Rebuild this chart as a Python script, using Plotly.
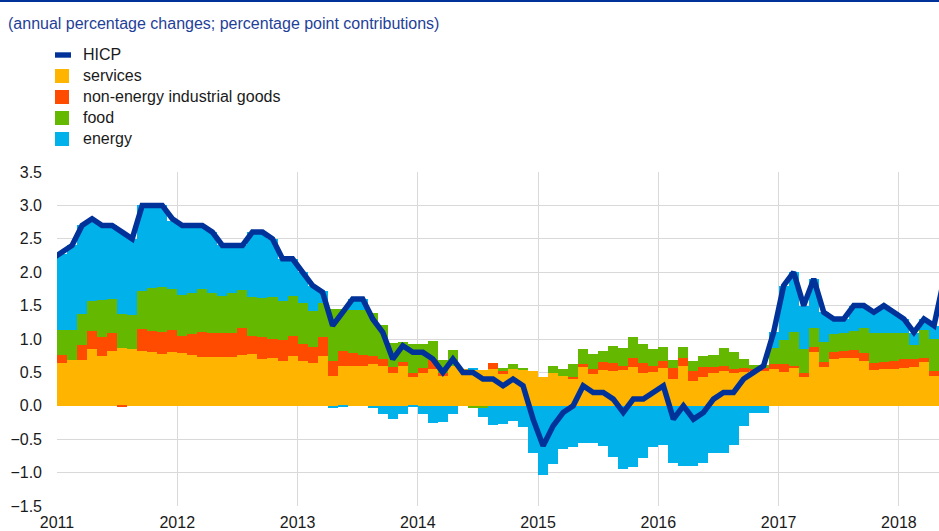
import pandas as pd
import plotly.graph_objects as go

# monthly data, Jan 2011 - Apr 2018 (contributions in percentage points)
months = pd.period_range("2011-01", "2018-04", freq="M").strftime("%Y-%m").tolist()

services = [
    0.64, 0.685, 0.685, 0.85, 0.745, 0.825, 0.86, 0.85, 0.82, 0.80, 0.77, 0.81,
    0.795, 0.76, 0.735, 0.725, 0.735, 0.725, 0.76, 0.77, 0.705, 0.72, 0.67, 0.75,
    0.67, 0.645, 0.75, 0.45, 0.595, 0.595, 0.595, 0.62, 0.595, 0.485, 0.6, 0.435,
    0.495, 0.545, 0.45, 0.6, 0.545, 0.545, 0.535, 0.55, 0.475, 0.545, 0.535, 0.525,
    0.435, 0.485, 0.445, 0.41, 0.575, 0.475, 0.535, 0.52, 0.535, 0.585, 0.485, 0.51,
    0.56, 0.4, 0.595, 0.375, 0.435, 0.485, 0.52, 0.495, 0.5, 0.535, 0.525, 0.545,
    0.51, 0.56, 0.435, 0.81, 0.585, 0.695, 0.71, 0.71, 0.67, 0.535, 0.545, 0.545,
    0.57, 0.575, 0.66, 0.45,
]
neig = [
    0.12, 0.0, 0.225, 0.275, 0.29, 0.26, -0.02, 0.0, 0.325, 0.32, 0.34, 0.325,
    0.25, 0.31, 0.375, 0.36, 0.36, 0.36, 0.41, 0.28, 0.32, 0.28, 0.315, 0.295,
    0.25, 0.23, 0.275, 0.22, 0.23, 0.2, 0.165, 0.125, 0.1, 0.09, 0.055, 0.05,
    0.065, 0.14, 0.045, 0.0, 0.0, 0.0, 0.0, 0.095, 0.045, 0.0, 0.0, 0.0,
    0.0, 0.0, 0.0, 0.02, 0.045, 0.07, 0.115, 0.125, 0.065, 0.135, 0.15, 0.085,
    0.115, 0.16, 0.125, 0.145, 0.14, 0.1, 0.08, 0.055, 0.06, 0.015, 0.035, 0.08,
    0.115, 0.035, 0.06, 0.065, 0.075, 0.105, 0.11, 0.125, 0.115, 0.1, 0.105, 0.125,
    0.125, 0.125, 0.06, 0.075,
]
food = [
    0.37, 0.45, 0.465, 0.445, 0.55, 0.51, 0.51, 0.51, 0.58, 0.65, 0.67, 0.61,
    0.61, 0.62, 0.635, 0.6, 0.55, 0.61, 0.565, 0.585, 0.585, 0.625, 0.59, 0.6,
    0.625, 0.545, 0.52, 0.775, 0.62, 0.64, 0.675, 0.65, 0.515, 0.36, 0.305, 0.435,
    0.36, 0.285, 0.19, 0.235, 0.0, -0.04, -0.04, 0.0, 0.05, 0.075, 0.035, 0.0,
    0.0, 0.115, 0.1, 0.195, 0.225, 0.225, 0.175, 0.25, 0.27, 0.315, 0.29, 0.25,
    0.21, 0.125, 0.155, 0.15, 0.17, 0.175, 0.27, 0.26, 0.14, 0.06, 0.05, 0.245,
    0.36, 0.505, 0.35, 0.295, 0.3, 0.27, 0.275, 0.285, 0.375, 0.45, 0.435, 0.415,
    0.39, 0.21, 0.415, 0.475,
]
energy = [
    1.15, 1.265, 1.325, 1.23, 1.115, 1.105, 1.23, 1.14, 1.275, 1.23, 1.22, 1.02,
    1.045, 1.01, 0.955, 0.915, 0.755, 0.705, 0.665, 0.965, 0.99, 0.875, 0.625, 0.555,
    0.455, 0.38, 0.17, -0.04, -0.01, 0.165, 0.165, -0.04, -0.12, -0.2, -0.12, -0.01,
    -0.12, -0.26, -0.24, -0.12, 0.0, 0.01, -0.13, -0.29, -0.27, -0.22, -0.31, -0.7,
    -1.03, -0.87, -0.64, -0.62, -0.55, -0.55, -0.6, -0.76, -0.95, -0.92, -0.78, -0.61,
    -0.59, -0.85, -0.9, -0.9, -0.85, -0.7, -0.71, -0.58, -0.3, -0.11, -0.11, 0.24,
    0.815, 0.9, 0.655, 0.73, 0.44, 0.23, 0.205, 0.38, 0.34, 0.315, 0.415, 0.315,
    0.215, 0.175, 0.165, 0.2,
]

# headline HICP, Dec 2010 - May 2018 (first and last point fall outside the axis range)
hicp_months = ["2010-12"] + months + ["2018-05"]
hicp = [
    2.2,
    2.3, 2.4, 2.7, 2.8, 2.7, 2.7, 2.6, 2.5, 3.0, 3.0, 3.0, 2.8,
    2.7, 2.7, 2.7, 2.6, 2.4, 2.4, 2.4, 2.6, 2.6, 2.5, 2.2, 2.2,
    2.0, 1.8, 1.7, 1.2, 1.4, 1.6, 1.6, 1.3, 1.1, 0.7, 0.9, 0.8,
    0.8, 0.7, 0.5, 0.7, 0.5, 0.5, 0.4, 0.4, 0.3, 0.4, 0.3, -0.2,
    -0.6, -0.3, -0.1, 0.0, 0.3, 0.2, 0.2, 0.1, -0.1, 0.1, 0.1, 0.2,
    0.3, -0.2, 0.0, -0.2, -0.1, 0.1, 0.2, 0.2, 0.4, 0.5, 0.6, 1.1,
    1.8, 2.0, 1.5, 1.9, 1.4, 1.3, 1.3, 1.5, 1.5, 1.4, 1.5, 1.4,
    1.3, 1.1, 1.3, 1.2, 1.9,
]

years = ["2011", "2012", "2013", "2014", "2015", "2016", "2017", "2018"]
y_ticks = [3.5, 3.0, 2.5, 2.0, 1.5, 1.0, 0.5, 0.0, -0.5, -1.0, -1.5]

series_names = ["HICP", "services", "non-energy industrial goods", "food", "energy"]
series_colors = ["#003299", "#FFB400", "#FF4B00", "#65B800", "#00B1EA"]


def month_pos(m):
    # centre of the month on a numeric axis where 0 = start of Jan 2011
    y, mo = int(m[:4]), int(m[5:])
    return (y - 2011) * 12 + (mo - 1) + 0.5


x_bar = [month_pos(m) for m in months]
x_line = [month_pos(m) for m in hicp_months]

FONT = "Arial, Liberation Sans, sans-serif"
TEXT = "#1a1a1a"

# plot area in page pixels
L, R, T, B = 57, 939, 172, 506


def px(x):
    return (x - L) / (R - L)


def py(y):
    return (B - y) / (B - T)


fig = go.Figure()

for name, vals, col in zip(series_names[1:], [services, neig, food, energy], series_colors[1:]):
    fig.add_trace(go.Bar(x=x_bar, y=vals, name=name,
                         marker=dict(color=col, line=dict(width=0))))

fig.add_trace(go.Scatter(x=x_line, y=hicp, name="HICP", mode="lines",
                         line=dict(color=series_colors[0], width=5.5)))

# hand-drawn legend, to get the short line / square keys of the original
shapes = [dict(type="line", xref="paper", yref="paper",
               x0=px(0), x1=1.0, y0=py(1), y1=py(1),
               line=dict(color="#003299", width=2))]
annotations = [dict(
    text="(annual percentage changes; percentage point contributions)",
    xref="paper", yref="paper", x=px(6), y=py(23),
    xanchor="left", yanchor="middle", showarrow=False,
    font=dict(family=FONT, size=16, color="#1f3f99"),
)]
for i, (name, col) in enumerate(zip(series_names, series_colors)):
    yc = 55 + 21 * i
    if i == 0:
        shapes.append(dict(type="rect", xref="paper", yref="paper",
                           x0=px(55), x1=px(71), y0=py(yc - 2.7), y1=py(yc + 2.7),
                           fillcolor=col, line=dict(width=0)))
    else:
        shapes.append(dict(type="rect", xref="paper", yref="paper",
                           x0=px(55), x1=px(69), y0=py(yc - 7), y1=py(yc + 7),
                           fillcolor=col, line=dict(width=0)))
    annotations.append(dict(text=name, xref="paper", yref="paper",
                            x=px(81), y=py(yc), xanchor="left", yanchor="middle",
                            showarrow=False,
                            font=dict(family=FONT, size=16, color=TEXT)))

fig.update_layout(
    width=939, height=531,
    margin=dict(l=L, r=939 - R, t=T, b=531 - B),
    barmode="relative",
    bargap=0,
    plot_bgcolor="white",
    paper_bgcolor="white",
    font=dict(family=FONT, size=16, color=TEXT),
    showlegend=False,
    xaxis=dict(
        range=[0, 88],
        tickvals=[i * 12 for i in range(len(years))],
        ticktext=years,
        showgrid=True, gridcolor="#d9d9d9", gridwidth=1,
        zeroline=False, showline=False, ticks="",
        ticklabelstandoff=5,
        tickfont=dict(size=16, color=TEXT),
    ),
    yaxis=dict(
        range=[-1.5, 3.5],
        tickvals=y_ticks,
        tickformat=".1f",
        showgrid=True, gridcolor="#d9d9d9", gridwidth=1,
        zeroline=False, showline=False, ticks="",
        ticklabelstandoff=14,
        tickfont=dict(size=16, color=TEXT),
    ),
    annotations=annotations,
    shapes=shapes,
)

# page body has an 8px default margin; drop it so the figure sits at the window corner
fig.write_html("out.html", config={"displayModeBar": False},
               post_script="document.body.style.margin='0';")
